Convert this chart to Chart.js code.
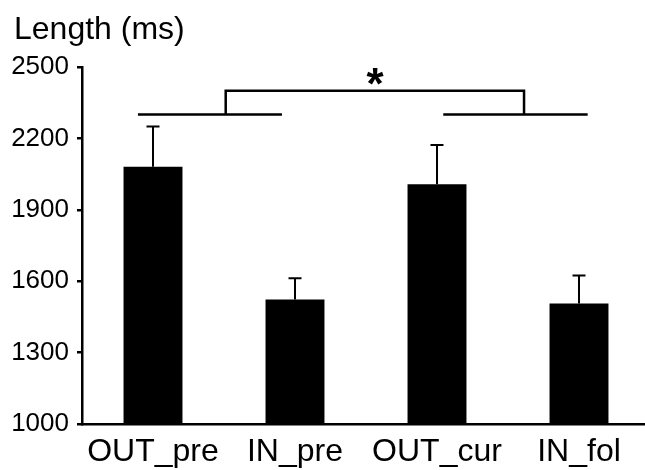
<!DOCTYPE html>
<html>
<head>
<meta charset="utf-8">
<script src="https://cdn.jsdelivr.net/npm/chart.js@4/dist/chart.umd.min.js"></script>
<style>
html,body{margin:0;padding:0;overflow:hidden;background:#fff;}
#wrap{width:650px;height:470px;}
</style>
</head>
<body>
<div id="wrap"><canvas id="c" width="650" height="470"></canvas></div>
<script>
const categories = ['OUT_pre', 'IN_pre', 'OUT_cur', 'IN_fol'];
const means = [2081, 1523, 2007, 1506];
const errors = [169, 89, 165, 118];
const yTicks = [1000, 1300, 1600, 1900, 2200, 2500];
const axisTitle = 'Length (ms)';
// significance bracket: [x-start, x-end] in category units, at given levels
const bracketLow = 2300;
const bracketHigh = 2400;
const leftArm = [-0.106, 0.908];
const rightArm = [2.044, 3.061];
const bridge = [0.512, 2.613];
const starX = 1.563;
const starY = 2460;
const starLabel = '*';

const FONT = '"Liberation Sans", Arial, sans-serif';

const overlay = {
  id: 'overlay',
  afterDatasetsDraw(chart) {
    const ctx = chart.ctx;
    const x = chart.scales.x, y = chart.scales.y;
    ctx.save();
    ctx.strokeStyle = '#000';
    ctx.lineCap = 'butt';
    // error bars (upper only)
    ctx.lineWidth = 2;
    means.forEach((m, i) => {
      const px = x.getPixelForValue(i);
      const y0 = y.getPixelForValue(m);
      const y1 = y.getPixelForValue(m + errors[i]);
      ctx.beginPath();
      ctx.moveTo(px, y0);
      ctx.lineTo(px, y1);
      ctx.moveTo(px - 6.5, y1);
      ctx.lineTo(px + 6.5, y1);
      ctx.stroke();
    });
    // brackets
    ctx.lineWidth = 2.5;
    const yl = y.getPixelForValue(bracketLow);
    const yh = y.getPixelForValue(bracketHigh);
    const xp = v => x.getPixelForValue(0) + v * (x.getPixelForValue(1) - x.getPixelForValue(0));
    ctx.beginPath();
    ctx.moveTo(xp(leftArm[0]), yl); ctx.lineTo(xp(leftArm[1]), yl);
    ctx.moveTo(xp(rightArm[0]), yl); ctx.lineTo(xp(rightArm[1]), yl);
    ctx.moveTo(xp(bridge[0]), yl); ctx.lineTo(xp(bridge[0]), yh);
    ctx.lineTo(xp(bridge[1]), yh); ctx.lineTo(xp(bridge[1]), yl);
    ctx.stroke();
    // star, centred on (starX, starY)
    ctx.fillStyle = '#000';
    ctx.font = 'bold 44px ' + FONT;
    ctx.textAlign = 'center';
    ctx.textBaseline = 'alphabetic';
    const m = ctx.measureText(starLabel);
    const asc = m.actualBoundingBoxAscent, desc = m.actualBoundingBoxDescent;
    const cy = y.getPixelForValue(starY);
    ctx.fillText(starLabel, xp(starX), cy + (asc - desc) / 2);
    // axis title, top-left
    ctx.font = '32px ' + FONT;
    ctx.textAlign = 'left';
    ctx.fillText(axisTitle, 14, 39);
    ctx.restore();
  }
};

new Chart(document.getElementById('c'), {
  type: 'bar',
  data: {
    labels: categories,
    datasets: [{
      data: means,
      backgroundColor: '#000',
      borderWidth: 0,
      categoryPercentage: 1,
      barPercentage: 0.415
    }]
  },
  options: {
    responsive: false,
    animation: false,
    layout: { padding: { left: 0, right: 0, top: 67, bottom: 0 } },
    plugins: {
      legend: { display: false },
      tooltip: { enabled: false },
      title: { display: false }
    },
    scales: {
      x: {
        afterFit: (s) => { s.height = 46; },
        grid: { display: false, drawTicks: false },
        border: { display: true, color: '#000', width: 2.5 },
        ticks: {
          color: '#000',
          padding: 9,
          maxRotation: 0,
          font: { family: FONT, size: 32 }
        }
      },
      y: {
        min: 1000,
        max: 2500,
        afterBuildTicks: (s) => { s.ticks = yTicks.map(v => ({ value: v })); },
        afterFit: (s) => { s.width = 82; },
        grid: { display: true, drawOnChartArea: false, drawTicks: true, tickLength: 5, color: '#000', lineWidth: 2.5 },
        border: { display: true, color: '#000', width: 2.5 },
        ticks: {
          color: '#000',
          padding: 8,
          callback: (v) => String(v),
          font: { family: FONT, size: 26 }
        }
      }
    }
  },
  plugins: [overlay]
});
</script>
</body>
</html>
